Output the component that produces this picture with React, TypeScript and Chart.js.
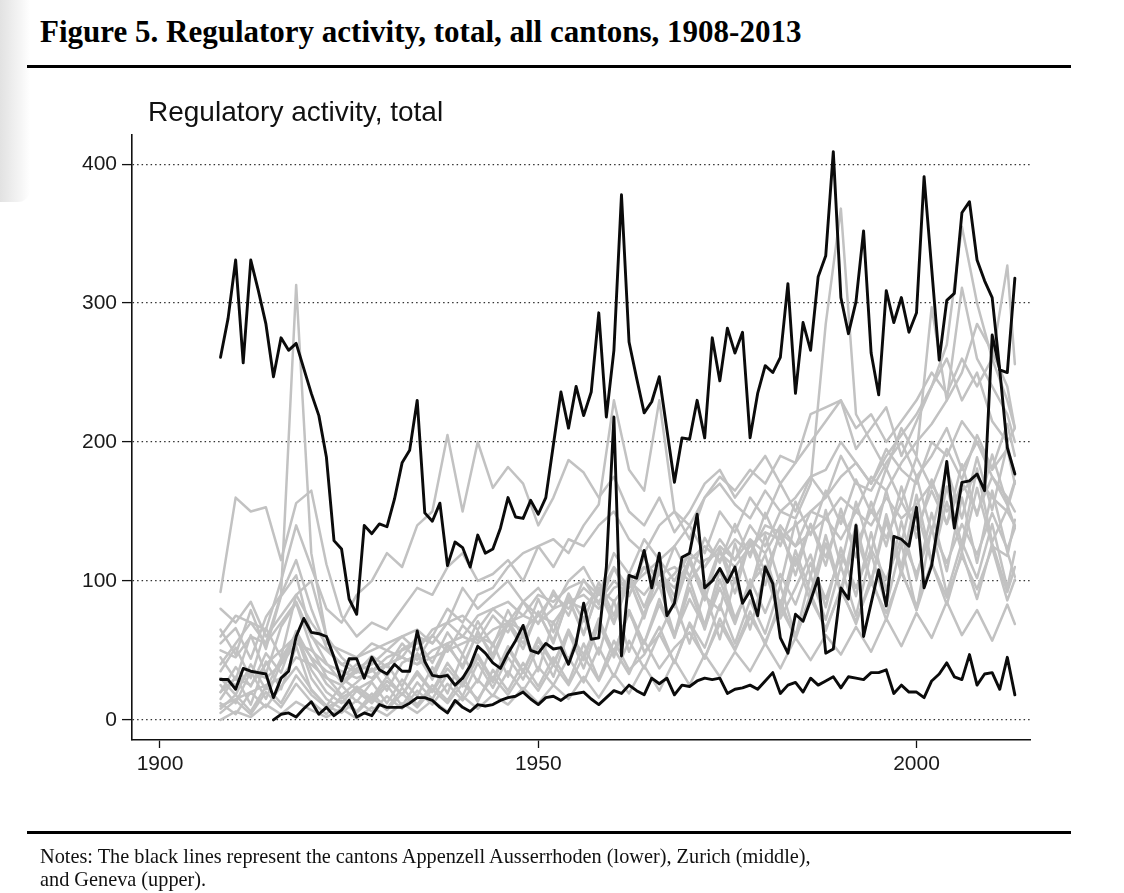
import React, { useEffect, useRef } from 'react';
import { Chart, registerables } from 'chart.js';

Chart.register(...registerables);

// years for the three highlighted cantons (annual)
const years = Array.from({ length: 106 }, (_, i) => 1908 + i);
const grayYears = [
    1908, 1910, 1912, 1914, 1916, 1918, 1920, 1922, 1924, 1926,
    1928, 1930, 1932, 1934, 1936, 1938, 1940, 1942, 1944, 1946,
    1948, 1950, 1952, 1954, 1956, 1958, 1960, 1962, 1964, 1966,
    1968, 1970, 1972, 1974, 1976, 1978, 1980, 1982, 1984, 1986,
    1988, 1990, 1992, 1994, 1996, 1998, 2000, 2002, 2004, 2006,
    2008, 2010, 2012, 2013,
];
const xTicks = [1900, 1950, 2000];
const yTicks = [0, 100, 200, 300, 400];

const genevaValues = [
    261, 289, 331, 257, 331, 309, 285, 247, 275, 266,
    271, 253, 235, 219, 189, 129, 123, 87, 76, 140,
    134, 141, 139, 159, 185, 194, 230, 149, 143, 156,
    111, 128, 124, 110, 133, 120, 123, 138, 160, 146,
    145, 158, 148, 160, 198, 236, 210, 240, 219, 236,
    293, 218, 266, 378, 272, 246, 221, 229, 247, 209,
    171, 203, 202, 230, 203, 275, 244, 282, 264, 279,
    203, 235, 255, 250, 261, 314, 235, 286, 266, 319,
    334, 409, 304, 278, 301, 352, 264, 234, 309, 286,
    304, 279, 293, 391, 325, 259, 302, 307, 365, 373,
    331, 316, 304, 252, 250, 318,
];
const zurichValues = [
    29, 29, 22, 37, 35, 34, 33, 16, 30, 35,
    60, 73, 63, 62, 60, 45, 28, 44, 44, 30,
    45, 36, 33, 40, 35, 35, 64, 42, 32, 31,
    32, 25, 30, 39, 53, 48, 41, 37, 48, 57,
    68, 50, 48, 55, 51, 52, 40, 55, 84, 58,
    59, 110, 218, 46, 104, 102, 122, 95, 120, 75,
    84, 117, 120, 148, 95, 100, 109, 99, 110, 84,
    93, 75, 110, 98, 59, 48, 76, 71, 86, 102,
    48, 51, 95, 87, 140, 60, 84, 108, 82, 132,
    130, 125, 153, 95, 111, 146, 186, 138, 171, 172,
    177, 165, 277, 252, 196, 177,
];
const appenzellValues = [
    null, null, null, null, null, null, null, 0, 4, 5,
    2, 8, 13, 4, 9, 3, 7, 14, 2, 5,
    3, 11, 9, 9, 9, 12, 16, 16, 14, 9,
    5, 14, 9, 6, 11, 10, 11, 14, 16, 17,
    20, 15, 11, 16, 17, 14, 18, 19, 20, 15,
    11, 16, 21, 19, 25, 21, 18, 30, 26, 30,
    18, 25, 24, 28, 30, 29, 30, 19, 22, 23,
    25, 22, 28, 34, 19, 25, 27, 20, 30, 25,
    28, 31, 23, 31, 30, 29, 34, 34, 36, 19,
    25, 20, 20, 16, 28, 33, 41, 31, 29, 47,
    25, 33, 34, 22, 45, 18,
];

const gray01 = [
    60, 75, 70, 55, 90, 313, 120, 60, 45, 35,
    40, 50, 45, 60, 55, 70, 95, 80, 90, 100,
    85, 95, 80, 100, 110, 90, 120, 105, 130, 115,
    125, 140, 120, 150, 135, 160, 145, 170, 150, 175,
    160, 190, 170, 165, 185, 200, 175, 190, 210, 180,
    200, 175, 160, 150,
];
const gray02 = [
    92, 160, 150, 153, 115, 156, 165, 112, 75, 60,
    70, 65, 80, 95, 90, 110, 120, 100, 105, 115,
    100, 125, 110, 130, 125, 140, 150, 130, 120, 140,
    150, 130, 160, 175, 165, 180, 170, 190, 185, 200,
    215, 230, 195, 210, 225, 190, 215, 240, 260, 230,
    250, 215, 200, 210,
];
const gray03 = [
    40, 55, 70, 65, 100, 140, 110, 80, 70, 90,
    100, 120, 110, 140, 150, 205, 150, 200, 167, 182,
    170, 140, 160, 187, 178, 160, 175, 150, 140, 160,
    135, 150, 170, 180, 160, 175, 190, 170, 185, 220,
    225, 230, 210, 220, 200, 215, 230, 250, 235, 260,
    240, 260, 230, 210,
];
const gray04 = [
    20, 30, 25, 40, 50, 60, 45, 35, 30, 40,
    35, 45, 50, 55, 60, 80, 70, 90, 95, 110,
    120, 125, 130, 120, 140, 155, 230, 180, 165, 230,
    150, 140, 160, 170, 155, 145, 165, 150, 160, 175,
    180, 200, 185, 170, 195, 180, 170, 200, 190, 215,
    200, 180, 195, 170,
];
const gray05 = [
    50, 45, 60, 55, 70, 85, 60, 50, 40, 45,
    50, 55, 60, 50, 65, 70, 60, 75, 80, 70,
    85, 75, 90, 80, 95, 85, 100, 90, 110, 95,
    105, 120, 110, 130, 115, 140, 125, 150, 145, 170,
    285, 368, 220, 200, 180, 210, 190, 297, 230, 311,
    260, 240, 220, 200,
];
const gray06 = [
    10, 15, 20, 25, 30, 45, 40, 30, 25, 35,
    30, 40, 45, 40, 50, 55, 60, 55, 65, 70,
    75, 70, 80, 85, 90, 80, 95, 100, 90, 105,
    110, 100, 115, 120, 110, 125, 135, 130, 140, 150,
    160, 175, 185, 170, 190, 205, 220, 240, 270, 355,
    300, 260, 327, 256,
];
const gray07 = [
    30, 25, 35, 30, 40, 55, 50, 40, 35, 30,
    35, 40, 45, 40, 45, 50, 55, 60, 55, 70,
    65, 75, 70, 85, 80, 95, 85, 100, 110, 105,
    95, 115, 125, 115, 130, 120, 140, 135, 125, 150,
    145, 160, 150, 175, 165, 185, 200, 213, 230, 250,
    285, 265, 240, 210,
];
const gray08 = [
    80, 70, 85, 60, 75, 90, 70, 55, 50, 45,
    55, 50, 60, 65, 55, 70, 75, 65, 80, 85,
    75, 90, 85, 95, 100, 90, 110, 95, 105, 115,
    100, 120, 110, 125, 115, 130, 120, 140, 125, 135,
    145, 130, 150, 140, 160, 145, 155, 170, 150, 165,
    175, 160, 150, 140,
];
const gray09 = [
    5, 14, 4, 20, 9, 26, 13, 4, 17, 6,
    19, 8, 23, 11, 25, 14, 31, 13, 36, 21,
    41, 24, 45, 27, 55, 29, 57, 36, 47, 67,
    41, 70, 52, 83, 55, 86, 62, 97, 60, 104,
    72, 111, 75, 120, 82, 127, 79, 139, 91, 128,
    102, 141, 95, 121,
];
const gray10 = [
    15, 31, 11, 42, 22, 53, 21, 10, 25, 13,
    27, 12, 29, 17, 38, 19, 47, 27, 55, 31,
    63, 35, 71, 42, 74, 47, 86, 49, 77, 97,
    61, 101, 68, 108, 73, 97, 119, 82, 122, 91,
    133, 93, 141, 99, 148, 110, 162, 114, 168, 126,
    181, 128, 152, 171,
];
const gray11 = [
    25, 12, 35, 15, 41, 61, 30, 15, 8, 21,
    12, 25, 10, 27, 15, 33, 17, 41, 23, 45,
    29, 53, 31, 63, 37, 69, 45, 79, 49, 61,
    85, 55, 93, 58, 102, 65, 107, 73, 95, 119,
    81, 124, 89, 135, 93, 143, 101, 149, 107, 160,
    113, 165, 121, 103,
];
const gray12 = [
    45, 29, 61, 33, 67, 84, 52, 31, 18, 27,
    37, 21, 41, 47, 29, 53, 39, 63, 47, 71,
    55, 77, 57, 87, 61, 95, 71, 101, 75, 111,
    83, 117, 89, 79, 127, 93, 133, 97, 143, 103,
    151, 111, 157, 121, 165, 127, 175, 135, 181, 145,
    189, 151, 198, 176,
];
const gray13 = [
    0, 6, 2, 11, 4, 13, 7, 2, 8, 1,
    9, 3, 12, 5, 14, 6, 17, 8, 18, 11,
    23, 12, 25, 15, 31, 16, 33, 19, 39, 21,
    43, 25, 47, 31, 49, 35, 55, 37, 59, 43,
    61, 47, 67, 49, 73, 53, 77, 59, 85, 61,
    79, 57, 83, 69,
];
const gray14 = [
    65, 47, 79, 51, 89, 104, 61, 41, 27, 37,
    43, 31, 51, 57, 41, 63, 47, 71, 53, 79,
    59, 87, 63, 91, 71, 99, 75, 105, 81, 109,
    89, 115, 93, 123, 99, 129, 107, 133, 111, 141,
    117, 147, 125, 151, 131, 157, 137, 165, 141, 171,
    149, 175, 155, 139,
];
const gray15 = [
    8, 18, 6, 24, 12, 32, 18, 9, 14, 5,
    16, 7, 19, 9, 22, 12, 26, 15, 31, 18,
    35, 21, 40, 25, 46, 28, 51, 33, 57, 37,
    52, 63, 45, 69, 50, 74, 56, 81, 60, 87,
    66, 93, 71, 99, 77, 106, 82, 113, 88, 118,
    94, 124, 86, 101,
];
const gray16 = [
    35, 52, 30, 66, 45, 90, 100, 60, 30, 22,
    28, 40, 24, 48, 33, 55, 37, 64, 44, 69,
    51, 78, 55, 88, 62, 93, 69, 101, 73, 108,
    81, 114, 86, 122, 91, 129, 97, 137, 104, 141,
    111, 152, 117, 157, 125, 168, 131, 173, 141, 184,
    147, 191, 155, 172,
];
const gray17 = [
    20, 38, 24, 48, 34, 64, 44, 26, 16, 22,
    14, 28, 18, 33, 20, 37, 24, 45, 27, 51,
    34, 57, 39, 65, 43, 73, 48, 79, 55, 87,
    59, 95, 65, 101, 71, 98, 111, 76, 117, 85,
    127, 91, 133, 99, 143, 105, 151, 113, 157, 121,
    167, 125, 118, 144,
];
const gray18 = [
    12, 4, 20, 9, 24, 38, 22, 10, 5, 14,
    6, 17, 8, 21, 11, 26, 14, 29, 17, 35,
    21, 38, 25, 45, 27, 52, 31, 57, 37, 62,
    41, 69, 44, 73, 51, 78, 54, 86, 58, 91,
    64, 95, 69, 103, 72, 108, 79, 113, 83, 121,
    87, 127, 92, 110,
];
const gray19 = [
    55, 66, 44, 74, 90, 115, 80, 52, 40, 34,
    46, 38, 55, 43, 61, 49, 68, 57, 75, 63,
    85, 69, 93, 75, 101, 83, 109, 89, 117, 97,
    125, 103, 131, 113, 141, 117, 149, 125, 157, 133,
    165, 141, 173, 149, 181, 157, 189, 167, 195, 173,
    205, 181, 213, 190,
];
const gray20 = [
    30, 18, 40, 22, 44, 62, 36, 20, 12, 24,
    16, 31, 18, 35, 21, 41, 26, 47, 29, 53,
    35, 59, 41, 63, 47, 71, 49, 77, 55, 83,
    61, 87, 67, 95, 69, 101, 77, 105, 83, 113,
    87, 119, 95, 123, 101, 131, 105, 137, 113, 141,
    119, 149, 123, 138,
];

const grayCantons = [
    gray01, gray02, gray03, gray04, gray05, gray06, gray07, gray08, gray09, gray10,
    gray11, gray12, gray13, gray14, gray15, gray16, gray17, gray18, gray19, gray20,
];

const toPoints = (xs: number[], ys: (number | null)[]) => xs.map((x, i) => ({ x, y: ys[i] }));

const tickFont = { family: '"Liberation Sans", Arial, sans-serif', size: 21 };

const RegulatoryChart: React.FC = () => {
    const chartRef = useRef<HTMLCanvasElement>(null);
    const chartInstance = useRef<Chart | null>(null);

    useEffect(() => {
        if (!chartRef.current) return;
        const ctx = chartRef.current.getContext('2d');
        if (!ctx) return;

        const blackLine = (values: (number | null)[]) => ({
            data: toPoints(years, values),
            borderColor: '#0b0b0b',
            borderWidth: 2.9,
            pointRadius: 0,
            order: 0,
        });
        const grayLines = grayCantons.map((values) => ({
            data: toPoints(grayYears, values),
            borderColor: '#c2c2c2',
            borderWidth: 2.5,
            pointRadius: 0,
            order: 1,
        }));

        chartInstance.current = new Chart(ctx, {
            type: 'line',
            data: {
                datasets: [
                    blackLine(appenzellValues),
                    blackLine(zurichValues),
                    blackLine(genevaValues),
                    ...grayLines,
                ],
            },
            options: {
                responsive: false,
                animation: false,
                events: [],
                layout: { padding: { top: 135, right: 94, bottom: 103, left: 0 } },
                elements: { line: { tension: 0, borderJoinStyle: 'round', borderCapStyle: 'round' } },
                plugins: {
                    legend: { display: false },
                    tooltip: { enabled: false },
                },
                scales: {
                    x: {
                        type: 'linear',
                        min: 1896.3,
                        max: 2015,
                        afterBuildTicks: (scale: any) => {
                            scale.ticks = xTicks.map((value) => ({ value }));
                        },
                        afterFit: (scale: any) => {
                            scale.height = 50;
                        },
                        grid: {
                            drawOnChartArea: false,
                            drawTicks: true,
                            tickLength: 8,
                            tickColor: '#111',
                            tickWidth: 1.3,
                        },
                        border: { display: true, color: '#111', width: 1.6 },
                        ticks: {
                            font: tickFont,
                            color: '#1a1a1a',
                            padding: 4,
                            maxRotation: 0,
                            callback: (value: any) => String(value),
                        },
                    },
                    y: {
                        type: 'linear',
                        min: -14.5,
                        max: 421,
                        afterBuildTicks: (scale: any) => {
                            scale.ticks = yTicks.map((value) => ({ value }));
                        },
                        afterFit: (scale: any) => {
                            scale.width = 132;
                        },
                        grid: {
                            color: '#333',
                            lineWidth: 1.2,
                            drawTicks: true,
                            tickLength: 10,
                            tickColor: '#111',
                            tickWidth: 1.3,
                            tickBorderDash: [],
                        },
                        border: { display: true, color: '#111', width: 1.6, dash: [1.5, 3] },
                        ticks: {
                            font: tickFont,
                            color: '#1a1a1a',
                            padding: 5,
                            callback: (value: any) => String(value),
                        },
                    },
                },
            },
        } as any);

        return () => {
            if (chartInstance.current) {
                chartInstance.current.destroy();
                chartInstance.current = null;
            }
        };
    }, []);

    return (
        <canvas
            ref={chartRef}
            width={1124}
            height={893}
            style={{ position: 'absolute', left: 0, top: 0, width: 1124, height: 893 }}
        />
    );
};

const serif = '"Liberation Serif", "Times New Roman", serif';
const sans = '"Liberation Sans", Arial, sans-serif';

const App: React.FC = () => {
    return (
        <div
            style={{
                position: 'fixed',
                left: 0,
                top: 0,
                width: 1124,
                height: 893,
                overflow: 'hidden',
                background: '#fff',
            }}
        >
            {/* scanned page edge on the left */}
            <div
                style={{
                    position: 'absolute',
                    left: 0,
                    top: 0,
                    width: 30,
                    height: 202,
                    background: 'linear-gradient(to right, #e2e2e2, #f4f4f4 65%, #fff)',
                    borderBottomRightRadius: 12,
                }}
            />
            <div
                style={{
                    position: 'absolute',
                    left: 40,
                    top: 13,
                    fontFamily: serif,
                    fontWeight: 'bold',
                    fontSize: 31,
                    lineHeight: '38px',
                    color: '#000',
                    whiteSpace: 'nowrap',
                }}
            >
                Figure 5. Regulatory activity, total, all cantons, 1908-2013
            </div>
            <div style={{ position: 'absolute', left: 27, top: 65, width: 1044, height: 3, background: '#000' }} />
            <RegulatoryChart />
            <div
                style={{
                    position: 'absolute',
                    left: 148,
                    top: 96,
                    fontFamily: sans,
                    fontSize: 28,
                    lineHeight: '32px',
                    color: '#111',
                    whiteSpace: 'nowrap',
                }}
            >
                Regulatory activity, total
            </div>
            <div style={{ position: 'absolute', left: 27, top: 831, width: 1044, height: 3, background: '#000' }} />
            <div
                style={{
                    position: 'absolute',
                    left: 40,
                    top: 845,
                    fontFamily: serif,
                    fontSize: 20.3,
                    lineHeight: '23px',
                    color: '#111',
                    whiteSpace: 'nowrap',
                }}
            >
                Notes: The black lines represent the cantons Appenzell Ausserrhoden (lower), Zurich (middle),
                <br />
                and Geneva (upper).
            </div>
        </div>
    );
};

export default App;
